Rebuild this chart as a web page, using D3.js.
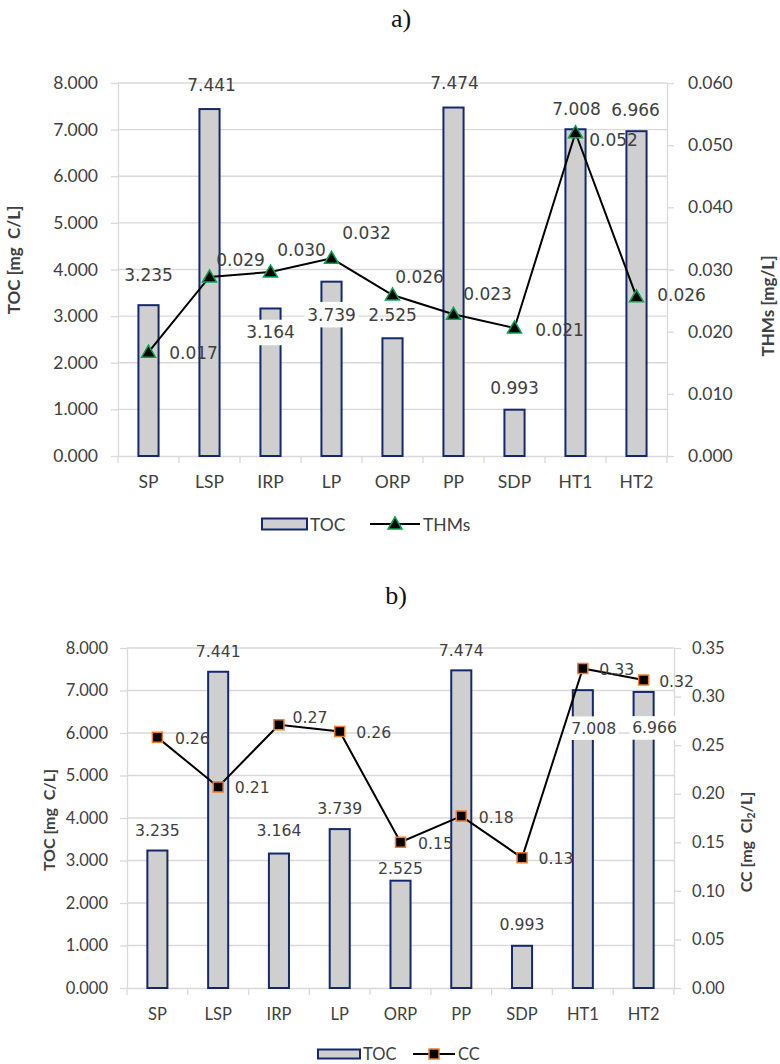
<!DOCTYPE html>
<html><head><meta charset="utf-8">
<script src="https://cdn.jsdelivr.net/npm/d3@7"></script>
<style>body{margin:0;background:#fff}</style>
</head><body>
<svg id="c" width="780" height="1064" xmlns="http://www.w3.org/2000/svg"></svg>
<script>
// ---------- data ----------
const categories = ["SP","LSP","IRP","LP","ORP","PP","SDP","HT1","HT2"];
const tocValues  = [3.235, 7.441, 3.164, 3.739, 2.525, 7.474, 0.993, 7.008, 6.966];
const thmsValues = [0.0167, 0.0288, 0.0296, 0.0318, 0.0259, 0.0228, 0.0206, 0.0520, 0.0256];
const ccValues   = [0.258, 0.207, 0.271, 0.264, 0.150, 0.177, 0.134, 0.329, 0.317];
const tocTicks  = [0, 1, 2, 3, 4, 5, 6, 7, 8];
const thmsTicks = [0, 0.01, 0.02, 0.03, 0.04, 0.05, 0.06];
const ccTicks   = [0, 0.05, 0.10, 0.15, 0.20, 0.25, 0.30, 0.35];
const panelTitles = ["a)", "b)"];
const seriesNames = ["TOC", "THMs", "CC"];

// ---------- label layout (nudges, px) ----------
const tocLabelNudgeA = [[0,-30],[2,-24],[0,24],[0,33],[0,-23],[1,-25],[0,-22],[1,-20],[-1,-21]];
const tocLabelBgA    = [false,false,true,true,false,false,false,false,false];
const thmsLabelNudge = [[45,1],[31,-17],[31,-22],[35,-25],[27,-18],[34,-20],[45,2],[38,7],[45,-2]];
const tocLabelNudgeB = [[0,-20],[0,-20],[0,-23],[0,-21],[0,-12],[0,-20],[0,-21],[11,38],[11,36]];
const tocLabelBgB    = [false,false,false,false,false,false,false,true,true];
const ccLabelNudge   = [[35,1],[34,1],[31,-7],[34,1],[35,1],[35,1],[34,1],[34,1],[33,1]];

const svg = d3.select("#c");
const TXT = "#404040", GRID = "#d9d9d9", BARFILL = "#d0cfcf", BARSTROKE = "#14286e";

function drawPanel(o) {
  const g = svg.append("g");
  const x = d3.scaleBand().domain(categories).range([o.left, o.right]);
  const yL = d3.scaleLinear().domain([0, 8]).range([o.bottom, o.top]);
  const yR = d3.scaleLinear().domain([0, d3.max(o.rTicks)]).range([o.bottom, o.top]);
  const bw = x.bandwidth(), barW = bw * 0.33;

  // title
  g.append("text").attr("x", o.titleX).attr("y", o.titleY).attr("text-anchor", "middle")
    .attr("dominant-baseline", "central").attr("font-family", "Liberation Serif, serif")
    .attr("font-size", o.titleSize).attr("fill", "#111").text(o.title);

  // gridlines
  g.selectAll(".grid").data(tocTicks.filter(d => d > 0)).join("line")
    .attr("x1", o.left).attr("x2", o.right).attr("y1", d => yL(d)).attr("y2", d => yL(d))
    .attr("stroke", GRID).attr("stroke-width", 1.3);

  // left axis
  const la = g.append("g").attr("transform", `translate(${o.left},0)`)
    .call(d3.axisLeft(yL).tickValues(tocTicks).tickFormat(d3.format(".3f"))
      .tickSize(7).tickSizeOuter(0).tickPadding(o.padL));
  // right axis
  const ra = g.append("g").attr("transform", `translate(${o.right},0)`)
    .call(d3.axisRight(yR).tickValues(o.rTicks).tickFormat(d3.format(o.rFmt))
      .tickSize(7).tickSizeOuter(0).tickPadding(o.padR));
  // bottom axis (labels)
  const ba = g.append("g").attr("transform", `translate(0,${o.bottom})`)
    .call(d3.axisBottom(x).tickSize(0).tickPadding(o.padB));
  [la, ra, ba].forEach(a => {
    a.select(".domain").attr("stroke", GRID).attr("stroke-width", 1.3);
    a.selectAll(".tick line").attr("stroke", GRID).attr("stroke-width", 1.3);
    a.selectAll("text").attr("font-family", "Lato, sans-serif").attr("font-size", o.tickSize).attr("fill", TXT);
  });
  // category boundary ticks
  g.selectAll(".bt").data(d3.range(categories.length + 1)).join("line")
    .attr("x1", i => o.left + i * bw).attr("x2", i => o.left + i * bw)
    .attr("y1", o.bottom).attr("y2", o.bottom + 7).attr("stroke", GRID).attr("stroke-width", 1.3);

  // bars
  g.selectAll(".bar").data(tocValues).join("rect")
    .attr("x", (d, i) => x(categories[i]) + (bw - barW) / 2).attr("width", barW)
    .attr("y", d => yL(d)).attr("height", d => o.bottom - yL(d))
    .attr("fill", BARFILL).attr("stroke", BARSTROKE).attr("stroke-width", 2);

  // line
  const px = i => x(categories[i]) + bw / 2;
  g.append("path").datum(o.lineValues)
    .attr("d", d3.line().x((d, i) => px(i)).y(d => yR(d)))
    .attr("fill", "none").attr("stroke", "#000").attr("stroke-width", 2);

  // markers
  g.selectAll(".mk").data(o.lineValues).join("path")
    .attr("transform", (d, i) => `translate(${px(i)},${yR(d)})`)
    .attr("d", o.marker)
    .attr("fill", "#000").attr("stroke", o.markerStroke).attr("stroke-width", 1.5);

  // TOC data labels
  const lf = "DejaVu Sans, sans-serif";
  tocValues.forEach((v, i) => {
    const cx = px(i) + o.tocNudge[i][0], cy = yL(v) + o.tocNudge[i][1];
    const label = d3.format(".3f")(v);
    if (o.tocBg[i]) {
      const w = label.length * o.labelSize * 0.56 + 6;
      g.append("rect").attr("x", cx - w / 2).attr("y", cy - o.labelSize * 0.75)
        .attr("width", w).attr("height", o.labelSize * 1.5).attr("fill", "#fff");
    }
    g.append("text").attr("x", cx).attr("y", cy).attr("text-anchor", "middle")
      .attr("dominant-baseline", "central").attr("font-family", lf)
      .attr("font-size", o.labelSize).attr("fill", TXT).text(label);
  });
  // line data labels
  o.lineValues.forEach((v, i) => {
    g.append("text").attr("x", px(i) + o.lineNudge[i][0]).attr("y", yR(v) + o.lineNudge[i][1])
      .attr("text-anchor", "middle").attr("dominant-baseline", "central").attr("font-family", lf)
      .attr("font-size", o.labelSize).attr("fill", TXT).text(d3.format(o.lineFmt)(v));
  });

  // axis titles
  g.append("text").attr("transform", `translate(${o.ltX},${o.ltY}) rotate(-90)`)
    .attr("text-anchor", "middle").attr("dominant-baseline", "central")
    .attr("font-family", "Lato, sans-serif").attr("font-weight", "bold")
    .attr("font-size", o.axTitleSize).attr("fill", TXT).attr("xml:space", "preserve")
    .text("TOC [mg  C/L]");
  const rt = g.append("text").attr("transform", `translate(${o.rtX},${o.rtY}) rotate(-90)`)
    .attr("text-anchor", "middle").attr("dominant-baseline", "central")
    .attr("font-family", "Lato, sans-serif").attr("font-weight", "bold")
    .attr("font-size", o.axTitleSize).attr("fill", TXT).attr("xml:space", "preserve");
  o.rTitle.forEach(p => {
    const t = rt.append("tspan").text(p.t);
    if (p.sub) t.attr("baseline-shift", "sub").attr("font-size", o.axTitleSize * 0.65);
  });

  // legend
  const lg = g.append("g");
  lg.append("rect").attr("x", o.lg.boxX).attr("y", o.lg.y - o.lg.boxH / 2)
    .attr("width", o.lg.boxW).attr("height", o.lg.boxH)
    .attr("fill", BARFILL).attr("stroke", BARSTROKE).attr("stroke-width", 2);
  lg.append("text").attr("x", o.lg.boxX + o.lg.boxW + 3).attr("y", o.lg.y)
    .attr("dominant-baseline", "central").attr("font-family", "Lato, sans-serif")
    .attr("font-size", o.tickSize).attr("fill", TXT).text(seriesNames[0]);
  lg.append("line").attr("x1", o.lg.lineX).attr("x2", o.lg.lineX + o.lg.lineW)
    .attr("y1", o.lg.y).attr("y2", o.lg.y).attr("stroke", "#000").attr("stroke-width", 2);
  lg.append("path").attr("transform", `translate(${o.lg.lineX + o.lg.lineW / 2},${o.lg.y})`)
    .attr("d", o.marker).attr("fill", "#000").attr("stroke", o.markerStroke).attr("stroke-width", 1.5);
  lg.append("text").attr("x", o.lg.lineX + o.lg.lineW + 3).attr("y", o.lg.y)
    .attr("dominant-baseline", "central").attr("font-family", "Lato, sans-serif")
    .attr("font-size", o.tickSize).attr("fill", TXT).text(o.lineName);
}

const tri = "M0,-7L7,5L-7,5Z";
const sq = "M-5,-5H5V5H-5Z";

drawPanel({
  title: panelTitles[0], titleX: 401, titleY: 18, titleSize: 26,
  left: 118, right: 667, top: 83, bottom: 456,
  rTicks: thmsTicks, rFmt: ".3f", padL: 13, padR: 14, padB: 20,
  tickSize: 17.5, labelSize: 17, axTitleSize: 17,
  lineValues: thmsValues, lineFmt: ".3f", lineName: seriesNames[1],
  marker: tri, markerStroke: "#00a550",
  tocNudge: tocLabelNudgeA, tocBg: tocLabelBgA, lineNudge: thmsLabelNudge,
  ltX: 13, ltY: 260, rtX: 767, rtY: 306,
  rTitle: [{t: "THMs [mg/L]"}],
  lg: {boxX: 262, boxW: 45, boxH: 11, y: 524, lineX: 370, lineW: 50}
});

drawPanel({
  title: panelTitles[1], titleX: 396, titleY: 595, titleSize: 26,
  left: 127, right: 674, top: 648, bottom: 988,
  rTicks: ccTicks, rFmt: ".2f", padL: 12, padR: 11, padB: 20,
  tickSize: 16.5, labelSize: 15.7, axTitleSize: 16,
  lineValues: ccValues, lineFmt: ".2f", lineName: seriesNames[2],
  marker: sq, markerStroke: "#ed7d31",
  tocNudge: tocLabelNudgeB, tocBg: tocLabelBgB, lineNudge: ccLabelNudge,
  ltX: 48, ltY: 820, rtX: 745, rtY: 842,
  rTitle: [{t: "CC [mg  Cl"}, {t: "2", sub: true}, {t: "/L]"}],
  lg: {boxX: 318, boxW: 42, boxH: 9, y: 1054, lineX: 413, lineW: 42}
});
</script>
</body></html>
